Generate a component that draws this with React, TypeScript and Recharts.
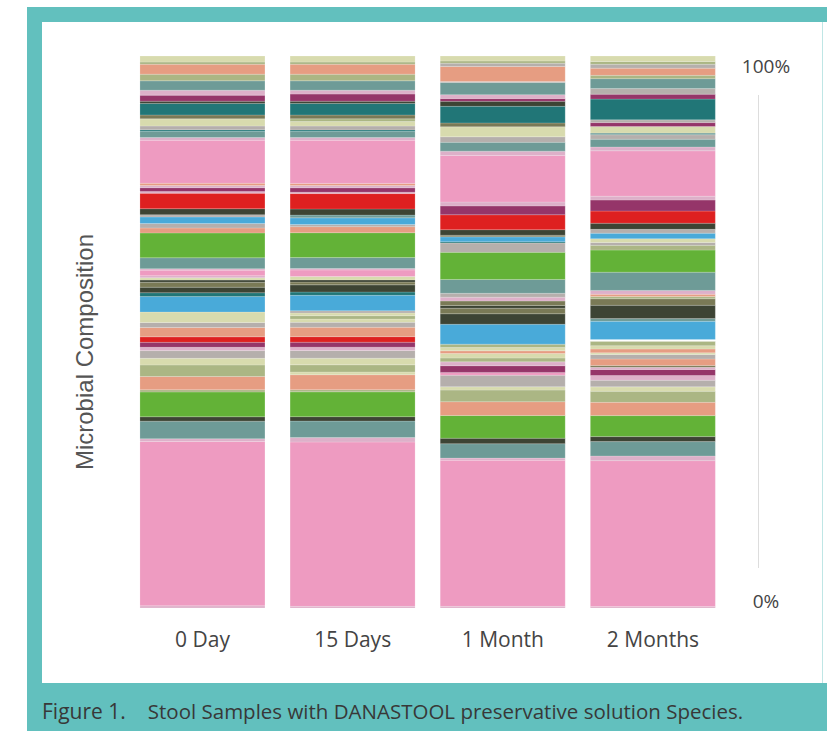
import { BarChart, Bar, XAxis, YAxis, Cell } from 'recharts'

// colour per taxon group (same group -> same colour in every sample)
const TAXON_COLOR: Record<string, string> = {
  pk: '#EE9BC1',
  lp: '#DDB0C9',
  tg: '#6E9B97',
  dk: '#3D4434',
  gr: '#63B237',
  sa: '#E69D82',
  sg: '#ABB684',
  cr: '#D8DBAE',
  gy: '#B5AFAC',
  pu: '#953569',
  rd: '#DE2020',
  bl: '#49AAD9',
  dt: '#217677',
  ol: '#7A7A56',
  wh: '#FFFFFF',
}

const samples = ['0 Day', '15 Days', '1 Month', '2 Months']

// stacked bottom -> top, shares in %
const day0Taxa = ['lp', 'pk', 'lp', 'tg', 'dk', 'gr', 'sg', 'sa', 'sg', 'cr', 'gy', 'lp', 'pu', 'rd', 'sa', 'gy', 'cr', 'bl', 'dt', 'dk', 'ol', 'dk', 'cr', 'lp', 'pk', 'lp', 'tg', 'gr', 'sa', 'gy', 'bl', 'gy', 'dk', 'rd', 'lp', 'pu', 'lp', 'sa', 'pk', 'lp', 'tg', 'dt', 'gy', 'cr', 'ol', 'dt', 'dk', 'pu', 'lp', 'tg', 'sg', 'sa', 'sg', 'cr']
const day0Share = [0.4, 29.8, 0.5, 3.2, 0.8, 4.5, 0.4, 2.4, 2.1, 1.2, 1.4, 0.6, 0.9, 1.0, 1.7, 0.9, 1.9, 2.8, 0.7, 1.0, 0.9, 0.4, 0.4, 0.4, 1.0, 0.25, 2.0, 4.5, 0.9, 0.8, 1.2, 0.4, 1.1, 2.8, 0.3, 0.7, 0.4, 0.4, 7.8, 0.5, 1.1, 0.3, 0.7, 1.3, 0.7, 2.1, 0.4, 1.1, 0.9, 1.7, 1.2, 1.8, 0.4, 1.1]

const day15Taxa = ['lp', 'pk', 'lp', 'tg', 'dk', 'gr', 'sg', 'sa', 'cr', 'sg', 'cr', 'gy', 'lp', 'pu', 'rd', 'sa', 'gy', 'cr', 'sg', 'cr', 'gy', 'bl', 'dt', 'dk', 'ol', 'dk', 'cr', 'pk', 'lp', 'tg', 'gr', 'sa', 'gy', 'bl', 'tg', 'dk', 'rd', 'lp', 'pu', 'lp', 'sa', 'pk', 'lp', 'tg', 'dt', 'gy', 'cr', 'sg', 'ol', 'dt', 'dk', 'pu', 'lp', 'tg', 'sg', 'sa', 'sg', 'cr']
const day15Share = [0.3, 29.8, 0.8, 3.0, 0.8, 4.5, 0.4, 2.7, 0.5, 1.3, 1.2, 1.4, 0.6, 0.9, 1.0, 1.7, 0.9, 0.6, 0.6, 0.5, 0.4, 2.8, 0.6, 1.3, 0.5, 0.4, 0.6, 1.2, 0.25, 2.0, 4.5, 1.1, 0.4, 1.2, 0.5, 1.1, 2.8, 0.25, 0.8, 0.4, 0.4, 7.8, 0.5, 1.1, 0.3, 0.7, 0.8, 0.5, 0.7, 2.1, 0.4, 1.3, 0.7, 1.7, 1.2, 1.8, 0.4, 1.1]

const month1Taxa = ['lp', 'pk', 'lp', 'tg', 'dk', 'gr', 'sa', 'sg', 'cr', 'gy', 'pk', 'pu', 'lp', 'sg', 'cr', 'sa', 'cr', 'sg', 'bl', 'dk', 'ol', 'dk', 'ol', 'lp', 'gy', 'tg', 'gr', 'gy', 'dt', 'bl', 'ol', 'dk', 'rd', 'pu', 'lp', 'pk', 'lp', 'tg', 'gy', 'cr', 'ol', 'dt', 'dk', 'pu', 'lp', 'tg', 'gy', 'sa', 'gy', 'sg', 'cr']
const month1Share = [0.3, 26.4, 0.4, 2.6, 1.0, 4.1, 2.5, 2.1, 0.6, 2.1, 0.5, 1.2, 0.7, 0.7, 0.8, 0.5, 0.6, 0.6, 3.6, 1.9, 1.0, 0.5, 0.8, 0.7, 0.7, 2.5, 4.9, 1.7, 0.2, 0.9, 0.3, 1.0, 2.7, 1.6, 0.7, 8.4, 0.8, 1.6, 1.0, 1.8, 0.7, 3.0, 0.9, 0.5, 0.7, 2.2, 0.2, 2.7, 0.6, 0.4, 0.9]

const month2Taxa = ['lp', 'pk', 'lp', 'tg', 'dk', 'gr', 'sa', 'sg', 'cr', 'gy', 'lp', 'pu', 'lp', 'ol', 'sa', 'gy', 'cr', 'sa', 'cr', 'sg', 'wh', 'bl', 'tg', 'dk', 'ol', 'sg', 'sa', 'lp', 'tg', 'gr', 'sg', 'gy', 'cr', 'bl', 'gy', 'dk', 'rd', 'pu', 'lp', 'pk', 'lp', 'tg', 'gy', 'tg', 'cr', 'pu', 'gy', 'dt', 'pu', 'gy', 'tg', 'sg', 'sa', 'gy', 'sg', 'cr']
const month2Share = [0.25, 26.4, 0.85, 2.6, 0.9, 3.8, 2.4, 2.0, 0.8, 1.2, 0.85, 1.1, 0.4, 0.3, 1.2, 0.8, 0.3, 0.7, 0.6, 0.8, 0.3, 3.3, 0.5, 2.4, 1.2, 0.4, 0.4, 0.7, 3.3, 4.0, 0.85, 0.5, 0.7, 1.0, 0.7, 1.1, 2.2, 2.0, 0.7, 8.2, 0.7, 1.4, 0.8, 0.3, 1.2, 0.7, 0.5, 3.75, 0.9, 1.0, 1.8, 0.6, 1.3, 0.7, 0.5, 1.0]

const sampleTaxa = [day0Taxa, day15Taxa, month1Taxa, month2Taxa]
const sampleShare = [day0Share, day15Share, month1Share, month2Share]

const layerCount = Math.max(...sampleShare.map((s) => s.length))
const layers = Array.from({ length: layerCount }, (_, k) => `l${k}`)

const data = samples.map((name, i) => {
  const row: Record<string, string | number> = { sample: name }
  layers.forEach((key, k) => {
    row[key] = sampleShare[i][k] ?? 0
  })
  return row
})

const tickFont = "'Open Sans', sans-serif"

function PercentTick({ x, y, payload }: any) {
  const top = payload.value === 1
  return (
    <text x={x + 38} y={y} dy={top ? 17 : 0} textAnchor="middle" fill="#444" fontSize={19} fontFamily={tickFont}>
      {top ? '100%' : '0%'}
    </text>
  )
}

function AxisTitle({ viewBox }: any) {
  const cx = viewBox.x + viewBox.width / 2
  const cy = viewBox.y + viewBox.height / 2 + 20
  return (
    <text
      x={cx}
      y={cy}
      transform={`rotate(-90, ${cx}, ${cy})`}
      textAnchor="middle"
      dominantBaseline="central"
      fill="#555"
      fontSize={24}
      fontFamily="'Liberation Sans', Arial, sans-serif"
    >
      Microbial Composition
    </text>
  )
}

export default function App() {
  return (
    <div style={{ position: 'absolute', left: 0, top: 0, width: 827, height: 731, background: '#fff', overflow: 'hidden' }}>
      <div style={{ position: 'absolute', left: 27, top: 7, width: 800, height: 724, background: '#62C0BE' }} />
      <div style={{ position: 'absolute', left: 42, top: 22, width: 785, height: 661, background: '#fff' }} />
      <div style={{ position: 'absolute', left: 822, top: 22, width: 1, height: 661, background: '#bfe6e5' }} />
      <div style={{ position: 'absolute', left: 758, top: 95, width: 1, height: 473, background: '#dddddd' }} />
      <div style={{ position: 'absolute', left: 42, top: 22 }}>
        <BarChart
          width={780}
          height={661}
          data={data}
          stackOffset="expand"
          barCategoryGap="8.3%"
          margin={{ top: 34, right: 34, bottom: 35, left: 0 }}
        >
          <XAxis
            dataKey="sample"
            axisLine={false}
            tickLine={false}
            tickMargin={18}
            tick={{ fill: '#444', fontSize: 21, fontFamily: tickFont }}
            height={40}
          />
          <YAxis yAxisId="left" width={85.5} domain={[0, 1]} tick={false} axisLine={false} tickLine={false} label={{ content: AxisTitle }} />
          <YAxis
            yAxisId="right"
            orientation="right"
            width={60}
            domain={[0, 1]}
            ticks={[0, 1]}
            axisLine={false}
            tickLine={false}
            tickSize={0}
            tickMargin={0}
            tick={PercentTick}
          />
          {layers.map((key, k) => (
            <Bar
              key={key}
              dataKey={key}
              stackId="s"
              yAxisId="left"
              stroke="#ffffff"
              strokeOpacity={0.35}
              strokeWidth={0.5}
              isAnimationActive={false}
            >
              {samples.map((s, i) => (
                <Cell key={s} fill={TAXON_COLOR[sampleTaxa[i][k]] ?? 'transparent'} />
              ))}
            </Bar>
          ))}
        </BarChart>
      </div>
      <div
        style={{
          position: 'absolute',
          left: 42,
          top: 697,
          whiteSpace: 'nowrap',
          fontFamily: tickFont,
          color: '#383838',
        }}
      >
        <span style={{ fontSize: 21 }}>Figure 1.</span>
        <span style={{ fontSize: 20.5, marginLeft: 22 }}>Stool Samples with DANASTOOL preservative solution Species.</span>
      </div>
    </div>
  )
}
